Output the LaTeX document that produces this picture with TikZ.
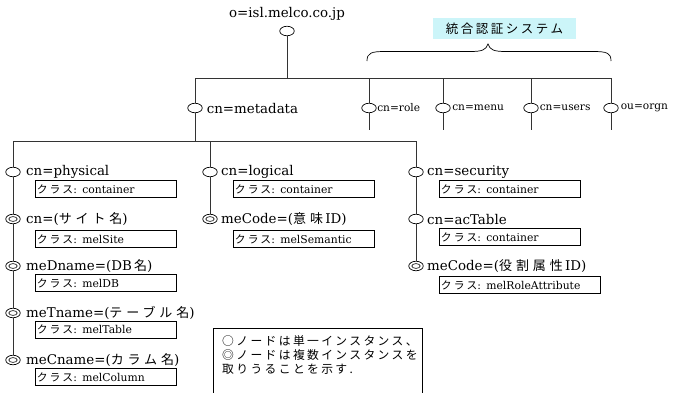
\documentclass[tikz,border=0pt]{standalone}
\usepackage{fontspec}
\setmainfont{DejaVu Serif}
\newfontfamily\jp[LetterSpace=20]{Noto Sans CJK JP}
\newfontfamily\jpw[LetterSpace=30]{Noto Sans CJK JP}
\usetikzlibrary{shapes.geometric}
\definecolor{syscyan}{RGB}{204,245,249}
\newcommand\J[1]{{\jpw\fontsize{13}{15}\selectfont #1}}
\newcommand\Js[1]{{\jp\fontsize{10.8}{12}\selectfont #1}}
\begin{document}
\begin{tikzpicture}[x=1pt,y=-1pt,
  ln/.style={draw=black!80, line width=0.7pt},
  sn/.style={ellipse, draw=black, line width=0.7pt, fill=white,
    minimum width=14.5pt, minimum height=9.5pt, inner sep=0pt},
  mn/.style={sn, path picture={\draw[line width=0.6pt]
    (path picture bounding box.center) ellipse (4.2pt and 2.4pt);}},
  lbl/.style={anchor=west, inner sep=0pt, font=\fontsize{13.4}{15}\selectfont},
  slbl/.style={anchor=west, inner sep=0pt, font=\fontsize{10.6}{12}\selectfont},
  cbox/.style={draw, line width=0.6pt, anchor=west, minimum height=17pt,
    inner ysep=0pt, inner xsep=1.5pt, text width=138pt, align=left,
    font=\fontsize{10.8}{12}\selectfont},
]
\useasboundingbox (0,0) rectangle (682,392);

% root
\node[sn] (root) at (287,31) {};
\node[lbl, anchor=center] (rootl) at (287,14) {o=isl.melco.co.jp};
\coordinate (t0) at (287,78);
\coordinate (tL) at (195,78);
\coordinate (tR) at (611,78);
\draw[ln] (root) -- (t0);
\draw[ln] (tL) -- (tR);

% system header and brace
\node[fill=syscyan, minimum width=143pt, minimum height=21pt, inner sep=0pt]
  (sys) at (504.5,28.5) {{\jp\fontsize{12.5}{14}\selectfont 統合認証システム}};
\draw[line width=0.7pt] (367,61) .. controls (367,53) and (371,51.5) .. (385,51.5)
  -- (470,51.5) .. controls (482,51.5) and (486,50) .. (488,44)
  .. controls (490,50) and (494,51.5) .. (506,51.5) -- (593,51.5)
  .. controls (607,51.5) and (611,53) .. (611,61);

% right branches
\foreach \n/\x/\t/\dx in {role/369/cn=role/0.5, menu/443/cn=menu/1.5,
    users/531/cn=users/1, orgn/611/ou=orgn/2}{
  \coordinate (\n t) at (\x,78);
  \coordinate (\n b) at (\x,130);
  \node[sn] (\n) at (\x,108) {};
  \node[slbl] (\n l) at ([xshift=\dx pt]\n.east) {\t};
  \draw[ln] (\n t) -- (\n);
  \draw[ln] (\n) -- (\n b);
}

% metadata
\node[sn] (meta) at (195,108) {};
\node[lbl] (metal) at ([xshift=4pt]meta.east) {cn=metadata};
\coordinate (m0) at (195,141);
\coordinate (mL) at (13,141);
\coordinate (mC) at (210,141);
\coordinate (mR) at (416,141);
\draw[ln] (tL) -- (meta);
\draw[ln] (meta) -- (m0);
\draw[ln] (mL) -- (mR);

% physical column
\node[sn] (p1) at (13,172) {};
\node[mn] (p2) at (13,219) {};
\node[mn] (p3) at (13,266) {};
\node[mn] (p4) at (13,313) {};
\node[mn] (p5) at (13,360) {};
\draw[ln] (mL) -- (p1) -- (p2) -- (p3) -- (p4) -- (p5);
\node[lbl] (p1l) at (26,172) {cn=physical};
\node[lbl] (p2l) at (26,219) {cn=(\J{サイト名})};
\node[lbl] (p3l) at (26,266) {meDname=(DB\,\J{名})};
\node[lbl] (p4l) at (26,313) {meTname=(\J{テーブル名})};
\node[lbl] (p5l) at (26,360) {meCname=(\J{カラム名})};
\node[cbox] (p1b) at (35,189) {\Js{クラス}: container};
\node[cbox] (p2b) at (35,239) {\Js{クラス}: melSite};
\node[cbox] (p3b) at (35,283) {\Js{クラス}: melDB};
\node[cbox] (p4b) at (35,329.5) {\Js{クラス}: melTable};
\node[cbox] (p5b) at (35,377) {\Js{クラス}: melColumn};

% logical column
\node[sn] (l1) at (210,172) {};
\node[mn] (l2) at (210,219) {};
\draw[ln] (mC) -- (l1) -- (l2);
\node[lbl] (l1l) at (221,172) {cn=logical};
\node[lbl] (l2l) at (221,219) {meCode=(\J{意味}\,ID)};
\node[cbox] (l1b) at (233,189) {\Js{クラス}: container};
\node[cbox] (l2b) at (233,239) {\Js{クラス}: melSemantic};

% security column
\node[sn] (s1) at (416,172) {};
\node[sn] (s2) at (416,219) {};
\node[mn] (s3) at (416,266) {};
\draw[ln] (mR) -- (s1) -- (s2) -- (s3);
\node[lbl] (s1l) at (427,172) {cn=security};
\node[lbl] (s2l) at (427,219) {cn=acTable};
\node[lbl] (s3l) at (427,266) {meCode=(\J{役割属性}\,ID)};
\node[cbox] (s1b) at (439,189) {\Js{クラス}: container};
\node[cbox] (s2b) at (439,237) {\Js{クラス}: container};
\node[cbox, text width=158pt] (s3b) at (439,285) {\Js{クラス}: melRoleAttribute};

% legend
\node[draw, line width=0.6pt, anchor=north west, minimum width=209pt,
  minimum height=72pt, inner sep=0pt] (legend) at (213,328) {};
\node[anchor=north west, inner sep=0pt, align=left,
  font=\jp\fontsize{11.8}{14.3}\selectfont]
  (legendt) at (222,335) {○ノードは単一インスタンス、\\◎ノードは複数インスタンスを\\取りうることを示す.};
\end{tikzpicture}
\end{document}
